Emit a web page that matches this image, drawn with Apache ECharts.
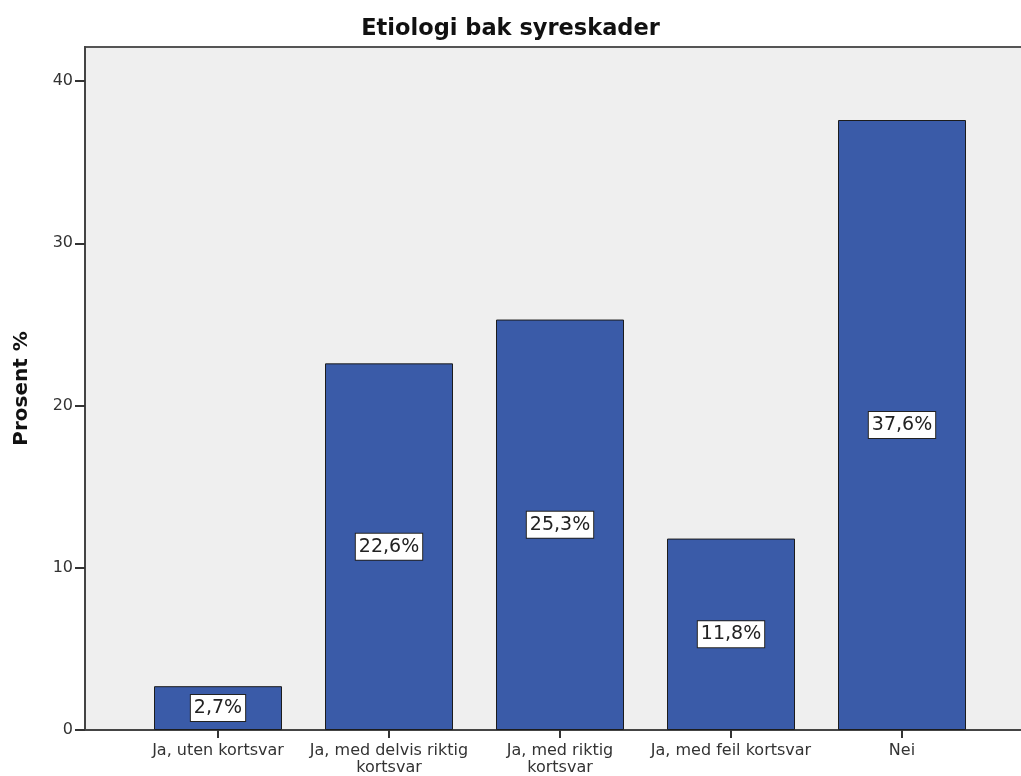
<!DOCTYPE html>
<html>
<head>
<meta charset="utf-8">
<script src="https://cdn.jsdelivr.net/npm/echarts@6/dist/echarts.min.js"></script>
<style>
  html, body { margin: 0; padding: 0; background: #fff; }
  #chart { width: 1021px; height: 776px; }
</style>
</head>
<body>
<div id="chart"></div>
<script>
const categories = [
  'Ja, uten kortsvar',
  'Ja, med delvis riktig\nkortsvar',
  'Ja, med riktig\nkortsvar',
  'Ja, med feil kortsvar',
  'Nei'
];
const percentages = [2.7, 22.6, 25.3, 11.8, 37.6];
const yTicks = [0, 10, 20, 30, 40];

const Y_MAX = 42.1;
const FONT = 'DejaVu Sans';

const chart = echarts.init(document.getElementById('chart'), null, { renderer: 'canvas' });

chart.setOption({
  animation: false,
  title: {
    text: 'Etiologi bak syreskader',
    left: 'center',
    top: 13,
    textStyle: { fontFamily: FONT, fontSize: 22.5, fontWeight: 'bold', color: '#111' }
  },
  grid: [
    // frame with the grey plot background, y axis and baseline
    { left: 85, right: -14, top: 47, bottom: 46, show: true, outerBoundsMode: 'none',
      backgroundColor: '#efefef', borderColor: '#555', borderWidth: 2 },
    // inner band holding the bars
    { left: 132.5, right: 33.5, top: 47, bottom: 46, outerBoundsMode: 'none' }
  ],
  xAxis: [
    { type: 'value', gridIndex: 0, min: 0, max: 1,
      axisLine: { show: true, lineStyle: { color: '#444', width: 2 } },
      axisTick: { show: false }, axisLabel: { show: false }, splitLine: { show: false } },
    { type: 'category', gridIndex: 1, data: categories,
      axisLine: { show: false },
      axisTick: { show: true, alignWithLabel: true, length: 8, inside: false,
                  lineStyle: { color: '#333', width: 2 } },
      axisLabel: { fontFamily: FONT, fontSize: 16, color: '#333', margin: 12,
                   lineHeight: 17, interval: 0 },
      splitLine: { show: false } }
  ],
  yAxis: [
    { type: 'value', gridIndex: 0, min: 0, max: Y_MAX, interval: 10,
      name: 'Prosent %', nameLocation: 'middle', nameGap: 53,
      nameTextStyle: { fontFamily: FONT, fontSize: 20, fontWeight: 'bold', color: '#111' },
      axisLine: { show: true, lineStyle: { color: '#444', width: 2 } },
      axisTick: { show: true, length: 10, customValues: yTicks,
                  lineStyle: { color: '#333', width: 2 } },
      axisLabel: { fontFamily: FONT, fontSize: 16, color: '#333', margin: 12,
                   customValues: yTicks },
      splitLine: { show: false } },
    { type: 'value', gridIndex: 1, min: 0, max: Y_MAX, show: false }
  ],
  series: [{
    type: 'bar',
    xAxisIndex: 1,
    yAxisIndex: 1,
    data: percentages,
    barWidth: 128,
    itemStyle: { color: '#3a5ba8', borderColor: '#1c1c1c', borderWidth: 1 },
    label: {
      show: true,
      position: 'inside',
      formatter: p => String(p.value).replace('.', ',') + '%',
      fontFamily: FONT,
      fontSize: 19,
      color: '#222',
      backgroundColor: '#fff',
      borderColor: '#222',
      borderWidth: 1,
      padding: [4, 3, 3, 3]
    }
  }]
});
</script>
</body>
</html>
